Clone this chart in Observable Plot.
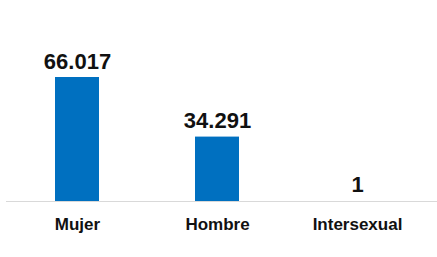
<!DOCTYPE html>
<html>
<head>
<meta charset="utf-8">
<script src="https://cdn.jsdelivr.net/npm/d3@7"></script>
<script src="https://cdn.jsdelivr.net/npm/@observablehq/plot@0.6"></script>
<style>
  html, body { margin: 0; padding: 0; background: #fff; }
  #chart svg { display: block; }
</style>
</head>
<body>
<div id="chart"></div>
<script>
const categories = ["Mujer", "Hombre", "Intersexual"];
const values = [66017, 34291, 1];
const valueLabels = ["66.017", "34.291", "1"];

const data = categories.map((c, i) => ({cat: c, value: values[i], label: valueLabels[i]}));

const chart = Plot.plot({
  width: 437,
  height: 257,
  marginLeft: 6,
  marginRight: 0,
  marginTop: 0,
  marginBottom: 56,
  style: {fontFamily: "'Liberation Sans', Arial, sans-serif", background: "#fff", color: "#000"},
  x: {domain: categories, range: [6.5, 427], paddingInner: 0.686, paddingOuter: 0.343, label: null},
  y: {domain: [0, 66017], range: [201, 77], axis: null},
  marks: [
    Plot.barY(data, {x: "cat", y: "value", fill: "#0070C0"}),
    Plot.ruleY([0], {stroke: "#d9d9d9", strokeWidth: 1.2}),
    Plot.text(data, {x: "cat", y: "value", text: "label", lineAnchor: "bottom", dy: -9, fontSize: 22, fontWeight: "bold", fill: "#111"}),
    Plot.axisX({tickSize: 0, tickPadding: 16.5, fontSize: 17, fontWeight: "bold", fill: "#111", label: null})
  ]
});
document.getElementById("chart").appendChild(chart);
</script>
</body>
</html>
